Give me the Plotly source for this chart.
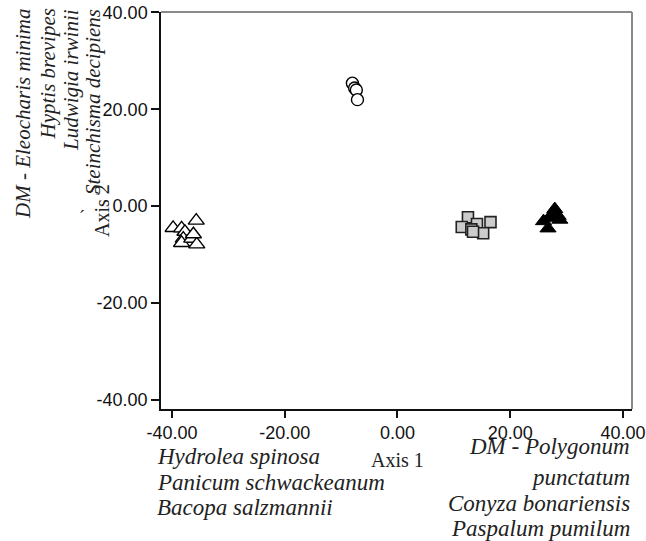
import plotly.graph_objects as go

# ---- data ----
circ_x = [-8.0, -7.6, -7.3, -7.1]
circ_y = [25.4, 24.4, 24.0, 22.0]

open_tri_x = [-39.8, -38.3, -37.7, -35.7, -38.0, -38.3, -36.5, -35.6, -36.2]
open_tri_y = [-4.5, -4.6, -5.3, -3.0, -6.7, -7.6, -6.7, -7.9, -5.8]

sq_x = [12.5, 11.4, 14.1, 16.5, 13.1, 15.2, 13.4]
sq_y = [-2.3, -4.3, -3.7, -3.3, -4.8, -5.6, -5.3]

fill_tri_x = [27.9, 27.5, 28.5, 27.0, 25.9, 26.7, 28.8]
fill_tri_y = [-0.6, -1.5, -2.0, -2.4, -3.1, -4.6, -2.8]

tick_vals = [-40, -20, 0, 20, 40]
tick_text = ["-40.00", "-20.00", "0.00", "20.00", "40.00"]

x_title = "Axis 1"
y_title = "Axis 2"
left_labels = ["DM - Eleocharis minima", "Hyptis brevipes", "Ludwigia irwinii", "Steinchisma decipiens"]
bottom_left_labels = ["Hydrolea spinosa", "Panicum schwackeanum", "Bacopa salzmannii"]
bottom_right_labels = ["DM - Polygonum", "punctatum", "Conyza bonariensis", "Paspalum pumilum"]

# ---- layout geometry (pixels) ----
W, H = 646, 541
L, R, T, B = 161, 14, 12, 132
PW, PH = W - L - R, H - T - B

def px(x):
    return (x - L) / PW

def py(y):
    return (H - B - y) / PH

SERIF = "Liberation Serif"
SANS = "Liberation Sans"
TXT = "#222222"

fig = go.Figure()
fig.add_trace(go.Scatter(x=circ_x, y=circ_y, mode="markers",
                         marker=dict(symbol="circle", size=12, color="white",
                                     line=dict(color="black", width=1.4))))
fig.add_trace(go.Scatter(x=open_tri_x, y=open_tri_y, mode="markers",
                         marker=dict(symbol="triangle-up", size=14, color="white",
                                     line=dict(color="black", width=1.4))))
fig.add_trace(go.Scatter(x=sq_x, y=sq_y, mode="markers",
                         marker=dict(symbol="square", size=11, color="#cccccc",
                                     line=dict(color="#222222", width=1.6))))
fig.add_trace(go.Scatter(x=fill_tri_x, y=fill_tri_y, mode="markers",
                         marker=dict(symbol="triangle-up", size=14, color="black",
                                     line=dict(color="black", width=1))))

annotations = []
# y title
annotations.append(dict(x=px(102), y=py(211), xref="paper", yref="paper",
                        text=y_title, showarrow=False, textangle=-90,
                        xanchor="center", yanchor="middle",
                        font=dict(family=SERIF, size=20, color=TXT)))
# x title
annotations.append(dict(x=px(397), y=py(460), xref="paper", yref="paper",
                        text=x_title, showarrow=False,
                        xanchor="center", yanchor="middle",
                        font=dict(family=SERIF, size=20, color=TXT)))
# left rotated species lines
for t, cx in zip(left_labels, [23, 47, 71, 93]):
    annotations.append(dict(x=px(cx), y=py(7), xref="paper", yref="paper",
                            text="<i>" + t + "</i>", showarrow=False, textangle=-90,
                            xanchor="center", yanchor="top",
                            font=dict(family=SERIF, size=21, color=TXT)))
# stray mark
annotations.append(dict(x=px(82), y=py(217), xref="paper", yref="paper",
                        text="´", showarrow=False, xanchor="center", yanchor="middle",
                        font=dict(family=SERIF, size=18, color=TXT)))
# bottom left lines
for t, cy in zip(bottom_left_labels, [456, 482, 507]):
    annotations.append(dict(x=px(155), y=py(cy), xref="paper", yref="paper",
                            text="<i>" + t + "</i>", showarrow=False,
                            xanchor="left", yanchor="middle",
                            font=dict(family=SERIF, size=23, color=TXT)))
# bottom right lines
for t, cy in zip(bottom_right_labels, [447, 477, 503, 528]):
    annotations.append(dict(x=px(632), y=py(cy), xref="paper", yref="paper",
                            text="<i>" + t + "</i>", showarrow=False,
                            xanchor="right", yanchor="middle",
                            font=dict(family=SERIF, size=23, color=TXT)))

fig.update_layout(
    width=W, height=H,
    margin=dict(l=L, r=R, t=T, b=B, pad=0, autoexpand=False),
    paper_bgcolor="white", plot_bgcolor="white",
    showlegend=False,
    annotations=annotations,
    shapes=[
        dict(type="line", xref="paper", yref="paper", x0=0, x1=1, y0=1, y1=1,
             line=dict(color="#8a8a8a", width=2)),
        dict(type="line", xref="paper", yref="paper", x0=1, x1=1, y0=0, y1=1,
             line=dict(color="#8a8a8a", width=2)),
    ],
    xaxis=dict(range=[-41.95, 41.6], tickvals=tick_vals, ticktext=tick_text,
               automargin=False,
               showgrid=False, zeroline=False, showline=True, linecolor="#111111",
               linewidth=1.5, ticks="outside", ticklen=7, tickwidth=1.5,
               tickcolor="#111111",
               tickfont=dict(family=SANS, size=18, color="#111111")),
    yaxis=dict(range=[-41.9, 40.1], tickvals=tick_vals, ticktext=tick_text,
               automargin=False,
               showgrid=False, zeroline=False, showline=True, linecolor="#111111",
               linewidth=1.5, ticks="outside", ticklen=8, tickwidth=1.5,
               tickcolor="#111111",
               tickfont=dict(family=SANS, size=18, color="#111111")),
)

fig.write_html("out.html")
